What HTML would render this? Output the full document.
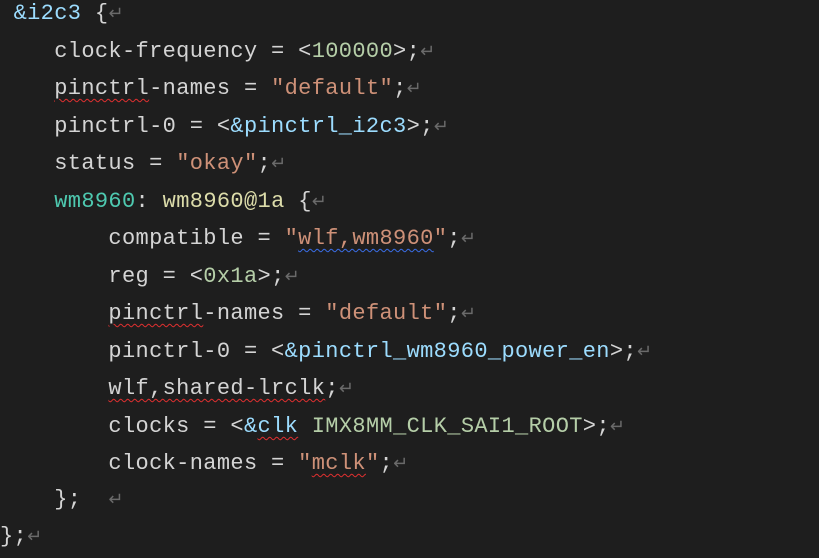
<!DOCTYPE html>
<html><head><meta charset="utf-8"><style>
html,body{margin:0;padding:0;background:#1e1e1e;width:819px;height:543px;overflow:hidden}
.l{position:absolute;left:0;white-space:pre;font-family:"Liberation Mono",monospace;font-size:22px;line-height:37.5px;color:#d4d4d4;letter-spacing:0.35px}
.b{color:#9cdcfe}.n{color:#b5cea8}.s{color:#ce9178}.t{color:#4ec9b0}.y{color:#dcdcaa}.r{color:#6a6a6a;font-size:18px}
.w{text-decoration:underline wavy #e03030;text-decoration-thickness:1px;text-underline-offset:4px}
.wb{text-decoration:underline wavy #3a6ee8;text-decoration-thickness:1px;text-underline-offset:4px}
</style></head><body>
<div class="l" style="top:-5px"> <span class="b">&amp;i2c3</span> {<span class="r">↵</span></div>
<div class="l" style="top:33px">    clock-frequency = &lt;<span class="n">100000</span>&gt;;<span class="r">↵</span></div>
<div class="l" style="top:70px">    <span class="w">pinctrl</span>-names = <span class="s">"default"</span>;<span class="r">↵</span></div>
<div class="l" style="top:108px">    pinctrl-0 = &lt;<span class="b">&amp;pinctrl_i2c3</span>&gt;;<span class="r">↵</span></div>
<div class="l" style="top:145px">    status = <span class="s">"okay"</span>;<span class="r">↵</span></div>
<div class="l" style="top:183px">    <span class="t">wm8960</span>: <span class="y">wm8960@1a</span> {<span class="r">↵</span></div>
<div class="l" style="top:220px">        compatible = <span class="s">"<span class="wb">wlf,wm8960</span>"</span>;<span class="r">↵</span></div>
<div class="l" style="top:258px">        reg = &lt;<span class="n">0x1a</span>&gt;;<span class="r">↵</span></div>
<div class="l" style="top:295px">        <span class="w">pinctrl</span>-names = <span class="s">"default"</span>;<span class="r">↵</span></div>
<div class="l" style="top:333px">        pinctrl-0 = &lt;<span class="b">&amp;pinctrl_wm8960_power_en</span>&gt;;<span class="r">↵</span></div>
<div class="l" style="top:370px">        <span class="w">wlf,shared-lrclk</span>;<span class="r">↵</span></div>
<div class="l" style="top:408px">        clocks = &lt;<span class="b">&amp;<span class="w">clk</span></span> <span class="n">IMX8MM_CLK_SAI1_ROOT</span>&gt;;<span class="r">↵</span></div>
<div class="l" style="top:445px">        clock-names = <span class="s">"<span class="w">mclk</span>"</span>;<span class="r">↵</span></div>
<div class="l" style="top:481px">    };  <span class="r">↵</span></div>
<div class="l" style="top:518px">};<span class="r">↵</span></div>
</body></html>
